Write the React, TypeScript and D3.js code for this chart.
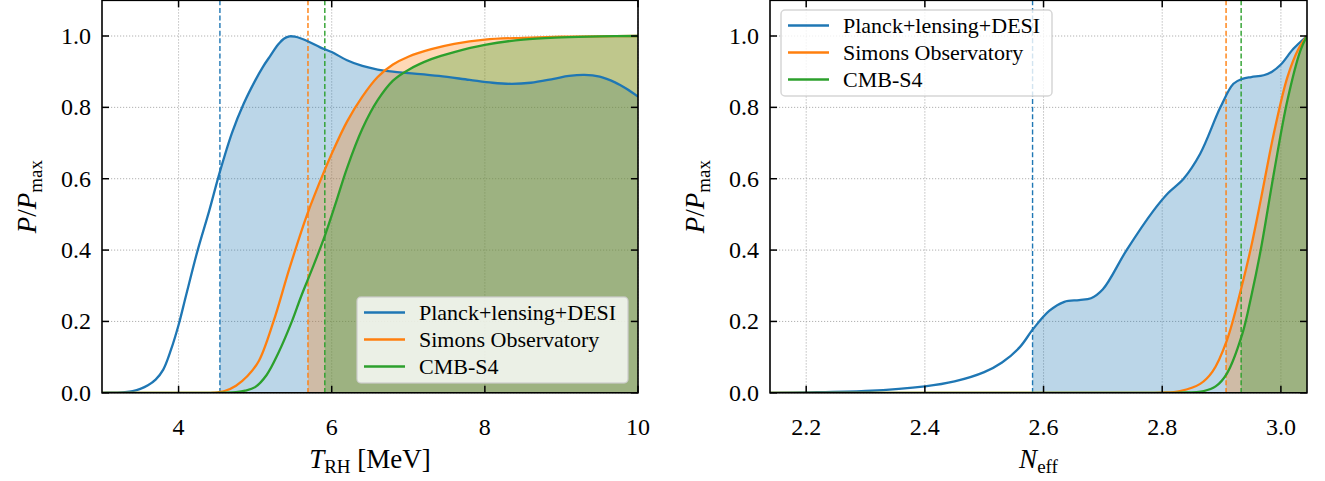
import React from "react";
import * as d3 from "d3";

// ---------- DATA ----------
const yTicks = [0, 0.2, 0.4, 0.6, 0.8, 1.0];
const yTickLabels = ["0.0", "0.2", "0.4", "0.6", "0.8", "1.0"];

const leftXTicks = [4, 6, 8, 10];
const leftXTickLabels = ["4", "6", "8", "10"];
const rightXTicks = [2.2, 2.4, 2.6, 2.8, 3.0];
const rightXTickLabels = ["2.2", "2.4", "2.6", "2.8", "3.0"];

const seriesNames = ["Planck+lensing+DESI", "Simons Observatory", "CMB-S4"];
const seriesColors = ["#1f77b4", "#ff7f0e", "#2ca02c"];

// Left panel: T_RH [MeV]
const trhPlanckX = [3.0, 3.1, 3.2, 3.3, 3.4, 3.5, 3.6, 3.7, 3.8, 3.9, 4.0, 4.1, 4.25, 4.4, 4.54, 4.7, 4.85, 5.0, 5.1, 5.2, 5.3, 5.38, 5.45, 5.52, 5.6, 5.7, 5.85, 6.0, 6.2, 6.4, 6.6, 6.8, 7.0, 7.4, 7.8, 8.1, 8.35, 8.6, 8.9, 9.1, 9.3, 9.5, 9.7, 9.85, 10.0];
const trhPlanckY = [0, 0.0002, 0.0006, 0.002, 0.005, 0.011, 0.021, 0.037, 0.065, 0.12, 0.19, 0.275, 0.4, 0.51, 0.62, 0.73, 0.81, 0.875, 0.913, 0.945, 0.976, 0.993, 0.999, 0.998, 0.993, 0.984, 0.968, 0.955, 0.932, 0.916, 0.906, 0.9, 0.896, 0.888, 0.877, 0.869, 0.866, 0.869, 0.88, 0.888, 0.891, 0.886, 0.87, 0.852, 0.83];
const trhSOX = [3.0, 3.5, 4.0, 4.3, 4.45, 4.6, 4.75, 4.9, 5.05, 5.24, 5.45, 5.68, 5.9, 6.0, 6.2, 6.4, 6.6, 6.8, 7.0, 7.3, 7.6, 8.0, 8.5, 9.0, 9.5, 10.0];
const trhSOY = [0, 0, 0, 0, 0.0005, 0.005, 0.02, 0.047, 0.09, 0.2, 0.35, 0.5, 0.62, 0.67, 0.76, 0.83, 0.885, 0.92, 0.942, 0.963, 0.978, 0.99, 0.995, 0.998, 0.999, 1.0];
const trhS4X = [3.0, 3.5, 4.0, 4.4, 4.6, 4.75, 4.87, 5.0, 5.15, 5.3, 5.48, 5.6, 5.75, 5.91, 6.05, 6.2, 6.4, 6.6, 6.8, 7.0, 7.3, 7.6, 8.0, 8.5, 9.0, 9.5, 10.0];
const trhS4Y = [0, 0, 0, 0, 0.0005, 0.002, 0.006, 0.016, 0.05, 0.11, 0.2, 0.27, 0.35, 0.44, 0.53, 0.63, 0.74, 0.82, 0.875, 0.905, 0.935, 0.955, 0.975, 0.99, 0.996, 0.999, 1.0];
const trhThresholds = [4.54, 5.69, 5.91];

// Right panel: N_eff
const neffPlanckX = [2.139, 2.2, 2.3, 2.4, 2.45, 2.5, 2.53, 2.56, 2.583, 2.61, 2.635, 2.66, 2.68, 2.7, 2.74, 2.785, 2.81, 2.836, 2.864, 2.898, 2.92, 2.935, 2.95, 2.971, 2.985, 3.0, 3.021, 3.044];
const neffPlanckY = [0, 0.001, 0.005, 0.018, 0.032, 0.058, 0.085, 0.128, 0.18, 0.23, 0.255, 0.26, 0.265, 0.29, 0.4, 0.51, 0.56, 0.6, 0.67, 0.8, 0.866, 0.88, 0.885, 0.89, 0.9, 0.92, 0.964, 1.0];
const neffSOX = [2.139, 2.5, 2.7, 2.78, 2.8, 2.83, 2.864, 2.885, 2.909, 2.935, 2.95, 2.966, 2.988, 3.011, 3.03, 3.044];
const neffSOY = [0, 0, 0, 0, 0.0005, 0.005, 0.025, 0.06, 0.147, 0.305, 0.41, 0.54, 0.726, 0.885, 0.965, 1.0];
const neffS4X = [2.139, 2.5, 2.7, 2.8, 2.83, 2.87, 2.89, 2.909, 2.935, 2.95, 2.966, 2.988, 3.011, 3.033, 3.044];
const neffS4Y = [0, 0, 0, 0, 0.0005, 0.005, 0.018, 0.054, 0.165, 0.27, 0.4, 0.614, 0.82, 0.96, 1.0];
const neffThresholds = [2.5815, 2.9076, 2.933];

// ---------- LAYOUT ----------
const W = 1325;
const H = 481;
const FONT = "Liberation Serif, DejaVu Serif, serif";
const yTop = 0.32;
const yBottom = 392.8;

type PanelProps = {
  id: string;
  x0: number;
  x1: number;
  domain: [number, number];
  xTicks: number[];
  xTickLabels: string[];
  series: { x: number[]; y: number[] }[];
  thresholds: number[];
  legend: { x: number; y: number };
  xLabel: React.ReactNode;
  yLabelX: number;
};

function Panel(p: PanelProps) {
  const x = d3.scaleLinear().domain(p.domain).range([p.x0, p.x1]);
  const y = d3.scaleLinear().domain([0, 1.1]).range([yBottom, yTop]);
  const curve = d3.curveCatmullRom.alpha(0.5);
  const line = d3
    .line<[number, number]>()
    .x((d) => x(d[0]))
    .y((d) => y(Math.max(0, d[1])))
    .curve(curve);
  const area = d3
    .area<[number, number]>()
    .x((d) => x(d[0]))
    .y0(y(0))
    .y1((d) => y(d[1]))
    .curve(curve);
  const pts = p.series.map((s) => s.x.map((v, i) => [v, s.y[i]] as [number, number]));
  const tickLen = 7;
  const midX = (p.x0 + p.x1) / 2;
  const midY = (yTop + yBottom) / 2;
  const lg = p.legend;
  return (
    <g>
      <defs>
        <clipPath id={`${p.id}-plot`}>
          <rect x={p.x0} y={yTop} width={p.x1 - p.x0} height={yBottom - yTop} />
        </clipPath>
        {p.thresholds.map((t, i) => (
          <clipPath key={i} id={`${p.id}-fill${i}`}>
            <rect x={x(t)} y={yTop} width={p.x1 - x(t)} height={yBottom - yTop} />
          </clipPath>
        ))}
      </defs>
      {/* grid */}
      {p.xTicks.map((t, i) => (
        <line key={"gx" + i} x1={x(t)} x2={x(t)} y1={yTop} y2={yBottom} stroke="#a8a8a8" strokeWidth={0.9} strokeDasharray="1.2,1.8" />
      ))}
      {yTicks.map((t, i) => (
        <line key={"gy" + i} x1={p.x0} x2={p.x1} y1={y(t)} y2={y(t)} stroke="#a8a8a8" strokeWidth={0.9} strokeDasharray="1.2,1.8" />
      ))}
      {/* fills */}
      {pts.map((d, i) => (
        <path key={"f" + i} d={area(d) || ""} fill={seriesColors[i]} fillOpacity={0.3} clipPath={`url(#${p.id}-fill${i})`} />
      ))}
      {/* thresholds */}
      {p.thresholds.map((t, i) => (
        <line key={"t" + i} x1={x(t)} x2={x(t)} y1={yTop} y2={yBottom} stroke={seriesColors[i]} strokeWidth={1.4} strokeDasharray="5,2.6" />
      ))}
      {/* lines */}
      <g clipPath={`url(#${p.id}-plot)`}>
        {pts.map((d, i) => (
          <path key={"l" + i} d={line(d) || ""} fill="none" stroke={seriesColors[i]} strokeWidth={2.3} strokeLinejoin="round" />
        ))}
      </g>
      {/* ticks */}
      {p.xTicks.map((t, i) => (
        <g key={"xt" + i}>
          <line x1={x(t)} x2={x(t)} y1={yBottom} y2={yBottom - tickLen} stroke="#000" strokeWidth={1.5} />
          <line x1={x(t)} x2={x(t)} y1={yTop} y2={yTop + tickLen} stroke="#000" strokeWidth={1.5} />
          <text x={x(t)} y={435} fontSize={24} textAnchor="middle" fontFamily={FONT} fill="#000">
            {p.xTickLabels[i]}
          </text>
        </g>
      ))}
      {yTicks.map((t, i) => (
        <g key={"yt" + i}>
          <line x1={p.x0} x2={p.x0 + tickLen} y1={y(t)} y2={y(t)} stroke="#000" strokeWidth={1.5} />
          <line x1={p.x1} x2={p.x1 - tickLen} y1={y(t)} y2={y(t)} stroke="#000" strokeWidth={1.5} />
          <text x={p.x0 - 11} y={y(t) + 8} fontSize={24} textAnchor="end" fontFamily={FONT} fill="#000">
            {yTickLabels[i]}
          </text>
        </g>
      ))}
      {/* frame */}
      <rect x={p.x0} y={yTop} width={p.x1 - p.x0} height={yBottom - yTop} fill="none" stroke="#000" strokeWidth={1.6} />
      {/* axis labels */}
      <text x={midX} y={468} textAnchor="middle" fontFamily={FONT} fontSize={27} fill="#000">
        {p.xLabel}
      </text>
      <text transform={`translate(${p.yLabelX},${midY}) rotate(-90)`} textAnchor="middle" fontFamily={FONT} fontSize={27} fill="#000">
        <tspan fontStyle="italic">P</tspan>
        <tspan>/</tspan>
        <tspan fontStyle="italic">P</tspan>
        <tspan fontSize={19} dy={6}>max</tspan>
      </text>
      {/* legend */}
      <g>
        <rect x={lg.x} y={lg.y} width={271} height={86} rx={4} ry={4} fill="#ffffff" fillOpacity={0.8} stroke="#cccccc" strokeOpacity={0.8} strokeWidth={1.5} />
        {seriesNames.map((n, i) => (
          <g key={"lg" + i}>
            <line x1={lg.x + 7} x2={lg.x + 48} y1={lg.y + 15.5 + i * 27} y2={lg.y + 15.5 + i * 27} stroke={seriesColors[i]} strokeWidth={2.3} />
            <text x={lg.x + 62} y={lg.y + 15.5 + i * 27 + 7} fontSize={22} fontFamily={FONT} fill="#000">
              {n}
            </text>
          </g>
        ))}
      </g>
    </g>
  );
}

export default function App() {
  return (
    <svg width={W} height={H} style={{ position: "absolute", left: 0, top: 0, background: "#fff" }}>
      <rect x={0} y={0} width={W} height={H} fill="#fff" />
      <Panel
        id="left"
        x0={102}
        x1={638}
        domain={[3, 10]}
        xTicks={leftXTicks}
        xTickLabels={leftXTickLabels}
        series={[
          { x: trhPlanckX, y: trhPlanckY },
          { x: trhSOX, y: trhSOY },
          { x: trhS4X, y: trhS4Y },
        ]}
        thresholds={trhThresholds}
        legend={{ x: 357, y: 297 }}
        yLabelX={36}
        xLabel={
          <>
            <tspan fontStyle="italic">T</tspan>
            <tspan fontSize={19} dy={5}>RH</tspan>
            <tspan dy={-5}> [MeV]</tspan>
          </>
        }
      />
      <Panel
        id="right"
        x0={770}
        x1={1307}
        domain={[2.139, 3.044]}
        xTicks={rightXTicks}
        xTickLabels={rightXTickLabels}
        series={[
          { x: neffPlanckX, y: neffPlanckY },
          { x: neffSOX, y: neffSOY },
          { x: neffS4X, y: neffS4Y },
        ]}
        thresholds={neffThresholds}
        legend={{ x: 781, y: 10 }}
        yLabelX={704}
        xLabel={
          <>
            <tspan fontStyle="italic">N</tspan>
            <tspan fontSize={19} dy={5}>eff</tspan>
          </>
        }
      />
    </svg>
  );
}
